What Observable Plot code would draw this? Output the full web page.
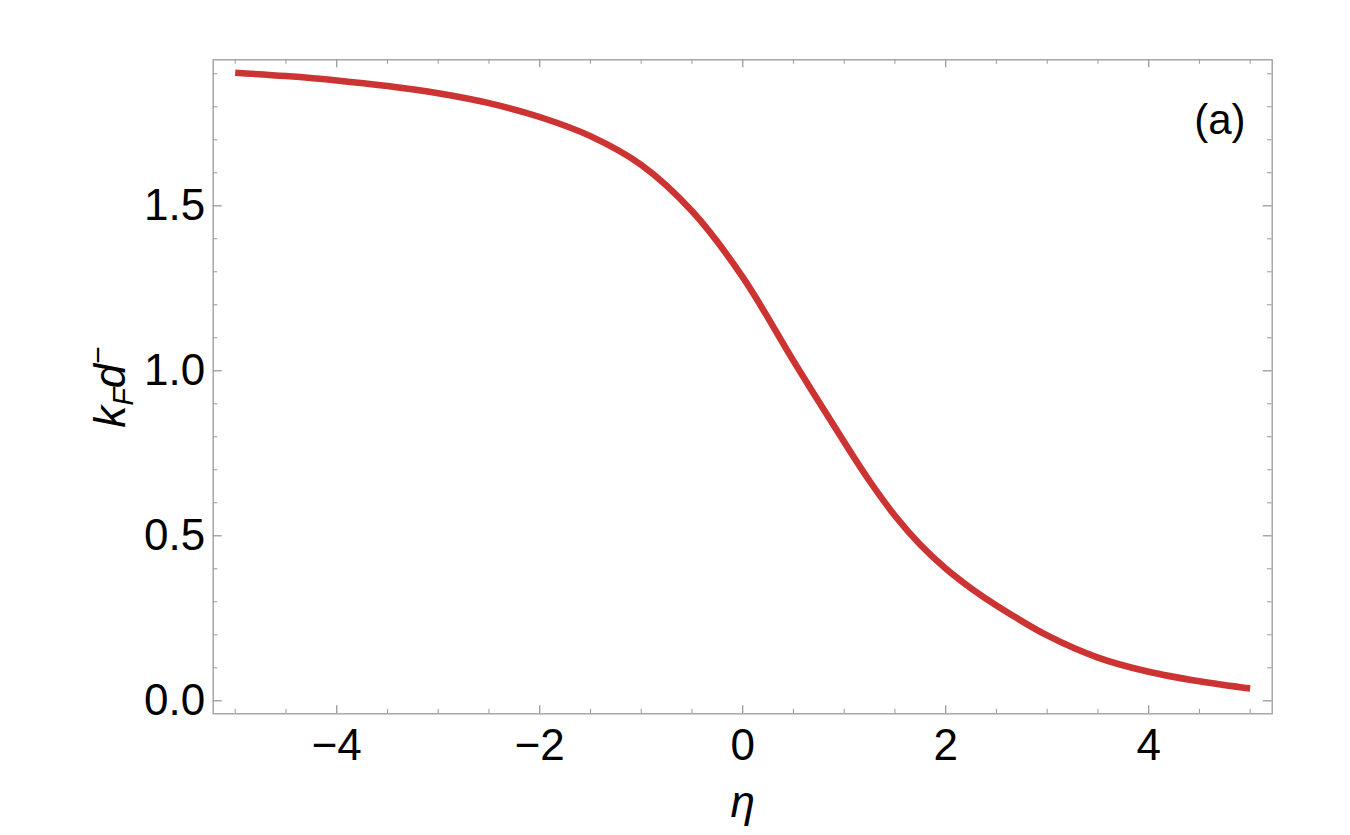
<!DOCTYPE html>
<html>
<head>
<meta charset="utf-8">
<script src="https://cdn.jsdelivr.net/npm/d3@7"></script>
<script src="https://cdn.jsdelivr.net/npm/@observablehq/plot@0.6"></script>
<style>
  html, body { margin: 0; padding: 0; background: white; }
</style>
</head>
<body>
<div id="chart"></div>
<script>
// Data
const eta = [-5, -4.5, -4, -3.5, -3, -2.5, -2, -1.5, -1, -0.5, 0, 0.5, 1, 1.25, 1.5, 1.75, 2, 2.25, 2.5, 3, 3.5, 4, 4.5, 5];
const kFd = [1.903, 1.893, 1.880, 1.863, 1.841, 1.811, 1.769, 1.711, 1.624, 1.484, 1.284, 1.030, 0.784, 0.666, 0.561, 0.473, 0.401, 0.341, 0.289, 0.198, 0.131, 0.088, 0.059, 0.037];
const xMajor = [-4, -2, 0, 2, 4];
const xMinor = [-5, -4.5, -3.5, -3, -2.5, -1.5, -1, -0.5, 0.5, 1, 1.5, 2.5, 3, 3.5, 4.5, 5];
const yMajor = [0, 0.5, 1.0, 1.5];
const yMinor = [0.1, 0.2, 0.3, 0.4, 0.6, 0.7, 0.8, 0.9, 1.1, 1.2, 1.3, 1.4, 1.6, 1.7, 1.8, 1.9];
const xLabel = "η";
const panelLabel = "(a)";

const data = eta.map((e, i) => ({eta: e, v: kFd[i]}));

const W = 1350, H = 835;
const mL = 212.7, mR = 78.3, mT = 59.3, mB = 121.7;
const innerW = W - mL - mR, innerH = H - mT - mB;
const gray = "#9a9a9a";
const font = "'Liberation Sans', Arial, Helvetica, sans-serif";

const plot = Plot.plot({
  width: W,
  height: H,
  marginLeft: mL,
  marginRight: mR,
  marginTop: mT,
  marginBottom: mB,
  style: {fontFamily: font, fontSize: "43px", color: "black", background: "white"},
  x: {domain: [-5.217, 5.217]},
  y: {domain: [-0.0394, 1.9424]},
  marks: [
    // tick marks (inward) on all four sides
    Plot.ruleX(xMajor, {stroke: gray, strokeWidth: 1.3, insetTop: innerH - 8}),
    Plot.ruleX(xMajor, {stroke: gray, strokeWidth: 1.3, insetBottom: innerH - 8}),
    Plot.ruleX(xMinor, {stroke: gray, strokeWidth: 1, insetTop: innerH - 4.5}),
    Plot.ruleX(xMinor, {stroke: gray, strokeWidth: 1, insetBottom: innerH - 4.5}),
    Plot.ruleY(yMajor, {stroke: gray, strokeWidth: 1.3, insetRight: innerW - 9}),
    Plot.ruleY(yMajor, {stroke: gray, strokeWidth: 1.3, insetLeft: innerW - 9}),
    Plot.ruleY(yMinor, {stroke: gray, strokeWidth: 1, insetRight: innerW - 4.7}),
    Plot.ruleY(yMinor, {stroke: gray, strokeWidth: 1, insetLeft: innerW - 4.7}),
    Plot.frame({stroke: gray, strokeWidth: 1.3}),
    // axes labels
    Plot.axisX(xMajor, {anchor: "bottom", tickSize: 0, tickPadding: 15, fontSize: 44, label: null, tickFormat: d3.format("d")}),
    Plot.axisY(yMajor, {anchor: "left", tickSize: 0, tickPadding: 8, fontSize: 44, label: null, tickFormat: d3.format(".1f")}),
    // curve
    Plot.line(data, {x: "eta", y: "v", stroke: "#cc3333", strokeWidth: 6.5, curve: "catmull-rom", strokeLinecap: "butt"}),
    // panel label
    Plot.text([panelLabel], {frameAnchor: "top-right", text: d => d, dx: -26.7, dy: 61, lineAnchor: "middle", textAnchor: "end", fontSize: 42, fill: "black"}),
    // x label
    Plot.text([xLabel], {frameAnchor: "bottom", text: d => d, dy: 103, lineAnchor: "bottom", fontSize: 44, fontStyle: "italic", fill: "black"})
  ]
});

document.getElementById("chart").appendChild(plot);

// y-axis label with subscript/superscript
const svg = d3.select(plot);
const yl = svg.append("text")
  .attr("transform", "translate(125,387) rotate(-90)")
  .attr("text-anchor", "middle")
  .attr("font-family", font)
  .attr("font-size", 44)
  .attr("fill", "black");
yl.append("tspan").attr("font-style", "italic").text("k");
yl.append("tspan").attr("font-style", "italic").attr("font-size", 29).attr("dy", 8).text("F");
yl.append("tspan").attr("font-style", "italic").attr("dy", -8).text("d");
yl.append("tspan").attr("font-size", 30).attr("dy", -17).text("−");
</script>
</body>
</html>
